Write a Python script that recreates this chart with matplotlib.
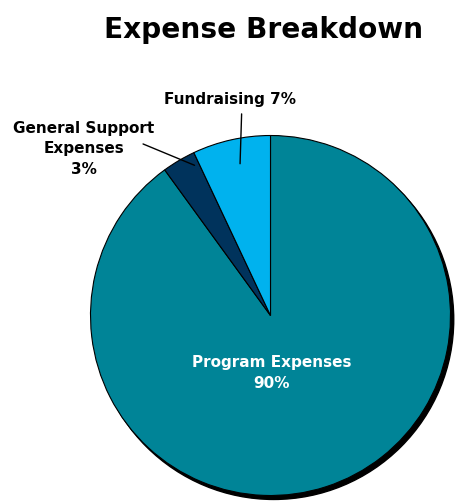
################################################################################
##### pie chart of the expense breakdown #####
import matplotlib
matplotlib.use('Agg')
import matplotlib.pyplot as plt
from matplotlib.patches import Circle
import numpy as np

################################################################################
##### data #####
categories = ['Program Expenses', 'General Support\nExpenses', 'Fundraising']
shares = [90, 3, 7]
colors = ['#008497', '#00335c', '#00b2ee']

################################################################################
##### figure #####
fig = plt.figure(figsize=(4.55, 5.02), dpi=100)
fig.text(0.579, 0.94, 'Expense Breakdown', ha='center', va='center',
         fontsize=20.2, fontweight='bold', family='DejaVu Sans')

#pie centred at (270.5, 315.5) px with a radius of 180 px
ax = fig.add_axes([90.5/455, 5.5/502, 360/455, 360/502])

#drop shadow under the pie
ax.add_patch(Circle((0.018, -0.022), 1.0, color='black', zorder=0, clip_on=False))

wedges, _ = ax.pie(shares, colors=colors, startangle=90, counterclock=False, radius=1.0,
                   wedgeprops=dict(edgecolor='black', linewidth=0.8))
for w in wedges:
    w.set_zorder(1)
    w.set_clip_on(False)

#pie() resets the limits, so set them afterwards
ax.set_xlim(-1, 1)
ax.set_ylim(-1, 1)
ax.set_aspect('equal')
ax.axis('off')

#angle inside each wedge used to anchor the leader lines (fraction of the way across the wedge)
def wedge_angle(w, frac):
    lo, hi = min(w.theta1, w.theta2), max(w.theta1, w.theta2)
    return np.deg2rad(lo + frac * (hi - lo))

txt = dict(fontsize=11, fontweight='bold', family='DejaVu Sans', ha='center', va='center')
ax.text(0.008, -0.314, categories[0] + '\n' + str(shares[0]) + '%', color='white',
        linespacing=1.45, **txt)

#general support label, leader line starts just right of "Expenses"
ax.text(-1.036, 0.931, categories[1] + '\n' + str(shares[1]) + '%', color='black',
        linespacing=1.45, **txt)
a1 = wedge_angle(wedges[1], 0.15)
ax.annotate('', xy=(0.935 * np.cos(a1), 0.935 * np.sin(a1)), xytext=(-0.708, 0.953),
            arrowprops=dict(arrowstyle='-', color='black', lw=1.0, shrinkA=0, shrinkB=0),
            annotation_clip=False)

a2 = wedge_angle(wedges[2], 0.45)
ax.annotate(categories[2] + ' ' + str(shares[2]) + '%',
            xy=(0.86 * np.cos(a2), 0.86 * np.sin(a2)), xytext=(-0.225, 1.208),
            textcoords='data', color='black',
            arrowprops=dict(arrowstyle='-', color='black', lw=1.0, relpos=(0.59, 0.0),
                            shrinkA=4, shrinkB=0), annotation_clip=False, **txt)

plt.savefig('out.png', dpi=100)
